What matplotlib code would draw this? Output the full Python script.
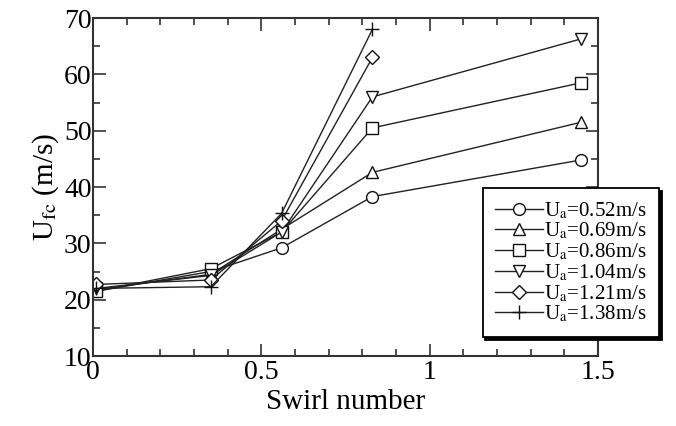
import matplotlib
matplotlib.use("Agg")
import matplotlib.pyplot as plt
from matplotlib.ticker import MultipleLocator

plt.rcParams['font.family'] = ['Liberation Serif', 'DejaVu Serif']
plt.rcParams['mathtext.fontset'] = 'stix'

# swirl numbers
swirl = [0.01, 0.35, 0.56, 0.83, 1.45]

u052 = [21.5, 25.0, 29.2, 38.3, 44.8]
u069 = [21.8, 24.5, 32.5, 42.6, 51.5]
u086 = [21.5, 25.5, 32.0, 50.5, 58.5]
u104 = [22.0, 24.3, 32.0, 56.0, 66.3]
u121 = [22.7, 23.5, 34.0, 63.0]
u138 = [22.0, 22.3, 35.3, 68.0]

labels = ['0.52', '0.69', '0.86', '1.04', '1.21', '1.38']
series = [u052, u069, u086, u104, u121, u138]
markers = ['o', '^', 's', 'v', 'D', '+']

fig = plt.figure(figsize=(6.76, 4.26), dpi=100)
ax = fig.add_axes([0.1376, 0.1643, 0.7470, 0.7934])

for lab, vals, m in zip(labels, series, markers):
    ms = 7.5 if m == 'D' else 8.5
    if m == '+':
        ms = 10
    ax.plot(swirl[:len(vals)], vals, marker=m, color='#222222', lw=1.0,
            ms=ms, mfc='white', mec='#111111', mew=1.0,
            label=r'U$_\mathrm{a}$=' + lab + 'm/s')

ax.set_xlim(0, 1.5)
ax.set_ylim(10, 70)
ax.xaxis.set_minor_locator(MultipleLocator(0.1))
ax.yaxis.set_major_locator(MultipleLocator(10))
ax.yaxis.set_minor_locator(MultipleLocator(5))
ax.set_xticks([0, 0.5, 1, 1.5])
ax.set_xticklabels(['0', '0.5', '1', '1.5'])

ax.tick_params(which='both', direction='in', top=True, right=True,
               labelsize=20, color='#333333', width=1.2)
ax.tick_params(axis='y', pad=1)
ax.tick_params(axis='x', pad=3)
ax.tick_params(which='major', length=9)
ax.tick_params(which='minor', length=5)
for s in ax.spines.values():
    s.set_linewidth(1.5)
    s.set_color('#333333')

ax.set_xlabel('Swirl number', fontsize=21, labelpad=3)
ax.set_ylabel(r'U$_\mathrm{fc}$ (m/s)', fontsize=21, labelpad=2)

leg = ax.legend(loc='upper left', bbox_to_anchor=(0.714, 0.559),
                bbox_transform=fig.transFigure, fontsize=15,
                frameon=True, fancybox=False, framealpha=1,
                edgecolor='black', handlelength=2.3, handletextpad=0.05,
                labelspacing=0.0, borderpad=0.6, borderaxespad=0,
                shadow={'color': 'black', 'alpha': 1})
leg.get_frame().set_linewidth(1.3)

fig.savefig('out.png', dpi=100)
